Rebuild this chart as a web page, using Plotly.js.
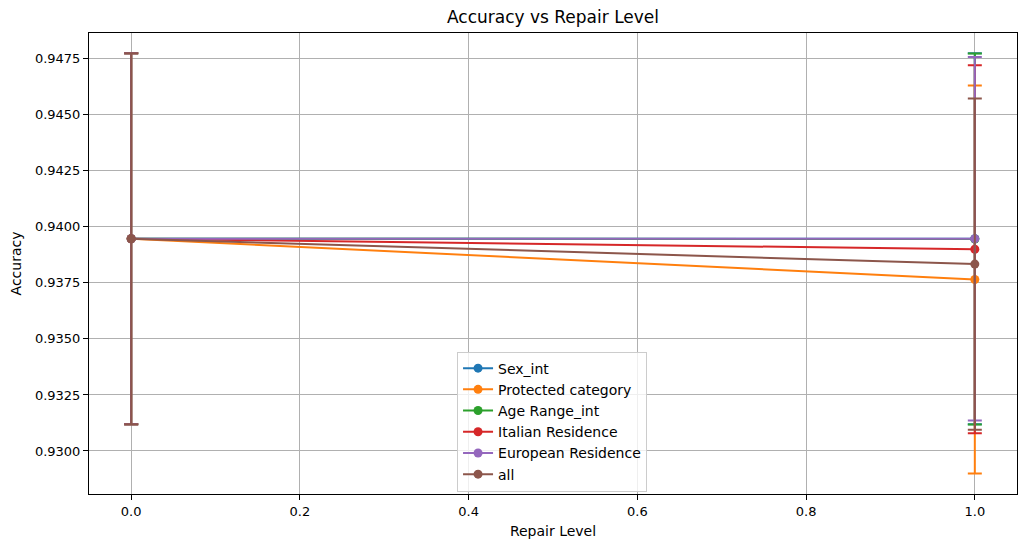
<!DOCTYPE html>
<html>
<head>
<meta charset="utf-8">
<script src="https://cdn.plot.ly/plotly-3.0.1.min.js"></script>
<style>
  html, body { margin: 0; padding: 0; background: #fff; }
  #chart { width: 1027px; height: 547px; }
</style>
</head>
<body>
<div id="chart"></div>
<script>
// Repair levels on the x axis
const repairLevels = [0.0, 1.0];

// Series names and colours
const seriesNames = ["Sex_int", "Protected category", "Age Range_int", "Italian Residence", "European Residence", "all"];
const seriesColors = ["#1f77b4", "#ff7f0e", "#2ca02c", "#d62728", "#9467bd", "#8c564b"];

// Mean accuracy per repair level
const sexAcc        = [0.93947, 0.93947];
const protectedAcc  = [0.93947, 0.93765];
const ageAcc        = [0.93947, 0.93946];
const italianAcc    = [0.93947, 0.93900];
const europeanAcc   = [0.93947, 0.93947];
const allAcc        = [0.93947, 0.93834];

// Standard deviation per repair level
const sexErr        = [0.00828, 0.00828];
const protectedErr  = [0.00828, 0.00866];
const ageErr        = [0.00828, 0.00828];
const italianErr    = [0.00828, 0.00821];
const europeanErr   = [0.00828, 0.00811];
const allErr        = [0.00828, 0.00739];

// Axis ticks
const yTicks = [0.9300, 0.9325, 0.9350, 0.9375, 0.9400, 0.9425, 0.9450, 0.9475];
const xTicks = [0.0, 0.2, 0.4, 0.6, 0.8, 1.0];

const values = [sexAcc, protectedAcc, ageAcc, italianAcc, europeanAcc, allAcc];
const errors = [sexErr, protectedErr, ageErr, italianErr, europeanErr, allErr];

const font = "DejaVu Sans, sans-serif";

const traces = seriesNames.map((name, i) => ({
  type: "scatter",
  mode: "lines+markers",
  name: name,
  x: repairLevels,
  y: values[i],
  line: { color: seriesColors[i], width: 2 },
  marker: { color: seriesColors[i], size: 9, symbol: "circle" },
  error_y: {
    type: "data",
    array: errors[i],
    visible: true,
    color: seriesColors[i],
    thickness: 2,
    width: 7
  }
}));

const axisCommon = {
  showline: true,
  linecolor: "#000",
  linewidth: 1,
  mirror: true,
  ticks: "outside",
  ticklen: 5,
  tickwidth: 1,
  tickcolor: "#000",
  showgrid: true,
  gridcolor: "#b0b0b0",
  gridwidth: 1,
  zeroline: false,
  tickfont: { family: font, size: 13, color: "#000" }
};

const layout = {
  width: 1027,
  height: 547,
  paper_bgcolor: "#fff",
  plot_bgcolor: "#fff",
  margin: { l: 89, r: 10, t: 33, b: 53 },
  title: {
    text: "Accuracy vs Repair Level",
    font: { family: font, size: 17, color: "#000" },
    xref: "paper", x: 0.5, xanchor: "center",
    yref: "container", y: 0.969, yanchor: "middle"
  },
  xaxis: Object.assign({}, axisCommon, {
    range: [-0.05, 1.05],
    tickvals: xTicks,
    tickformat: ".1f",
    title: { text: "Repair Level", font: { family: font, size: 14, color: "#000" }, standoff: 8 }
  }),
  yaxis: Object.assign({}, axisCommon, {
    range: [0.92808, 0.94865],
    tickvals: yTicks,
    tickformat: ".4f",
    title: { text: "Accuracy", font: { family: font, size: 14, color: "#000" }, standoff: 10 }
  }),
  showlegend: true,
  legend: {
    x: 0.3966, y: 0.309, xanchor: "left", yanchor: "top",
    bgcolor: "rgba(255,255,255,0.8)",
    bordercolor: "#cccccc",
    borderwidth: 1,
    font: { family: font, size: 14, color: "#000" },
    tracegroupgap: 0
  }
};

Plotly.newPlot("chart", traces, layout, { displayModeBar: false, staticPlot: true });
</script>
</body>
</html>
